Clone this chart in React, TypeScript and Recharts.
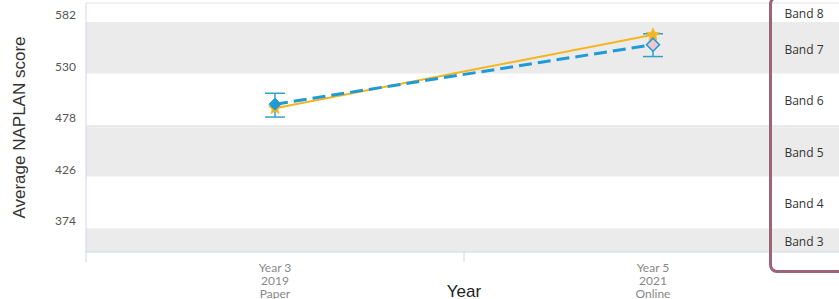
import React from 'react'
import { LineChart, Line, XAxis, YAxis, ReferenceArea, ReferenceLine, ErrorBar } from 'recharts'

// x categories, one entry per test sitting
const yearLevels = ['Year 3', 'Year 5']
const testYears = ['2019', '2021']
const testModes = ['Paper', 'Online']

// blue dashed series with confidence interval, yellow solid comparison series
const studentScores = [499, 559]
const studentErrDown = [13, 12]
const studentErrUp = [11, 11]
const comparisonScores = [495, 569]

// NAPLAN bands (bottom edge, top edge)
const bandNames = ['Band 3', 'Band 4', 'Band 5', 'Band 6', 'Band 7', 'Band 8']
const bandLows = [350, 374, 426, 478, 530, 582]
const bandHighs = [374, 426, 478, 530, 582, 601]
const yTicks = [374, 426, 478, 530, 582]

const data = yearLevels.map((lvl, i) => ({
  name: lvl,
  year: testYears[i],
  mode: testModes[i],
  student: studentScores[i],
  studentErr: [studentErrDown[i], studentErrUp[i]],
  comparison: comparisonScores[i]
}))

const BLUE = '#1e9ad6'
const YELLOW = '#f5b51e'
const AXIS = '#ccd6eb'

const YTick = (props: any) => {
  const { x, y, payload } = props
  return (
    <text x={x} y={y - 7} dy="0.355em" textAnchor="end" fontSize={12} fill="#555" fontFamily="Lato, sans-serif">
      {payload.value}
    </text>
  )
}

const XTick = (props: any) => {
  const { x, y, payload } = props
  const i = payload.index ?? 0
  const off = payload.offset || 189
  const row = data[i]
  return (
    <g>
      {i === 0 && <line x1={x - off} x2={x - off} y1={y} y2={y + 10} stroke={AXIS} />}
      <line x1={x + off} x2={x + off} y1={y} y2={y + 10} stroke={AXIS} />
      <text x={x} y={y + 20} textAnchor="middle" fontSize={12} fill="#888" fontFamily="Lato, sans-serif">
        <tspan x={x}>{row ? row.name : payload.value}</tspan>
        <tspan x={x} dy={13}>{row ? row.year : ''}</tspan>
        <tspan x={x} dy={13}>{row ? row.mode : ''}</tspan>
      </text>
    </g>
  )
}

const diamond = (cx: number, cy: number, r: number) =>
  `M${cx},${cy - r}L${cx + r},${cy}L${cx},${cy + r}L${cx - r},${cy}Z`

const star = (cx: number, cy: number, r: number) => {
  let d = ''
  for (let k = 0; k < 10; k++) {
    const rad = k % 2 === 0 ? r : r * 0.45
    const a = -Math.PI / 2 + (k * Math.PI) / 5
    d += (k === 0 ? 'M' : 'L') + (cx + rad * Math.cos(a)).toFixed(2) + ',' + (cy + rad * Math.sin(a)).toFixed(2)
  }
  return d + 'Z'
}

const StudentDot = (props: any) => {
  const { cx, cy, index } = props
  if (cx == null || cy == null) return <g key={`sd-${index}`} />
  return index === 0 ? (
    <path key={`sd-${index}`} d={diamond(cx, cy, 6)} fill={BLUE} stroke={BLUE} strokeWidth={1} />
  ) : (
    <path key={`sd-${index}`} d={diamond(cx, cy, 6.5)} fill="#f2c6cf" stroke={BLUE} strokeWidth={1.5} />
  )
}

const ComparisonDot = (props: any) => {
  const { cx, cy, index } = props
  if (cx == null || cy == null) return <g key={`cd-${index}`} />
  return <path key={`cd-${index}`} d={star(cx, cy, 7)} fill={YELLOW} stroke={YELLOW} strokeWidth={0.5} />
}

const bandLabel = (name: string) => (props: any) => {
  const vb = props.viewBox || {}
  return (
    <text
      x={vb.x + vb.width - 38}
      y={vb.y + vb.height / 2 + 1.5}
      dominantBaseline="central"
      textAnchor="middle"
      fontSize={12}
      fill="#333"
      fontFamily="'Open Sans', sans-serif"
    >
      {name}
    </text>
  )
}

export default function App() {
  return (
    <div style={{ position: 'absolute', left: 0, top: 0, width: 839, height: 299, overflow: 'hidden', background: '#fff' }}>
      <LineChart width={839} height={299} data={data} margin={{ top: 3, right: -3, bottom: 0, left: 0 }}>
        {bandNames.map((b, i) => (
          <ReferenceArea
            key={b}
            y1={bandLows[i]}
            y2={bandHighs[i]}
            fill={i % 2 === 0 ? '#ebebeb' : '#ffffff'}
            fillOpacity={1}
            stroke="none"
            label={bandLabel(b)}
          />
        ))}
        <ReferenceLine y={601} stroke="#e3e3e3" />
        <XAxis
          dataKey="name"
          scale="band"
          height={47}
          axisLine={{ stroke: AXIS }}
          tickLine={false}
          tickSize={0}
          tickMargin={0}
          tick={<XTick />}
          interval={0}
          label={(p: any) => {
            const vb = p.viewBox || {}
            return (
              <text x={vb.x + vb.width / 2} y={297} textAnchor="middle" fontSize={17} fill="#222" fontFamily="'Liberation Sans', Arial, sans-serif">
                Year
              </text>
            )
          }}
        />
        <YAxis
          domain={[350, 601]}
          ticks={yTicks}
          width={86}
          axisLine={{ stroke: AXIS }}
          tickLine={false}
          tickSize={0}
          tickMargin={10}
          tick={<YTick />}
          allowDataOverflow
          label={(p: any) => {
            const vb = p.viewBox || {}
            const cy = vb.y + vb.height / 2
            return (
              <text
                x={19}
                y={cy}
                transform={`rotate(-90, 19, ${cy})`}
                textAnchor="middle"
                dominantBaseline="central"
                fontSize={17}
                fill="#333"
                fontFamily="'Liberation Sans', Arial, sans-serif"
              >
                Average NAPLAN score
              </text>
            )
          }}
        />
        <Line
          dataKey="comparison"
          stroke={YELLOW}
          strokeWidth={2}
          dot={ComparisonDot}
          activeDot={false}
          isAnimationActive={false}
        />
        <Line
          dataKey="student"
          stroke={BLUE}
          strokeWidth={3}
          strokeDasharray="13 6"
          dot={StudentDot}
          activeDot={false}
          isAnimationActive={false}
        >
          <ErrorBar dataKey="studentErr" width={10} stroke="#2fa3c6" strokeWidth={1.5} direction="y" />
        </Line>
      </LineChart>
      <div
        style={{
          position: 'absolute',
          left: 769,
          top: -4,
          width: 90,
          height: 277,
          border: '3px solid #9d6476',
          borderRadius: 8,
          boxSizing: 'border-box',
          pointerEvents: 'none'
        }}
      />
    </div>
  )
}
